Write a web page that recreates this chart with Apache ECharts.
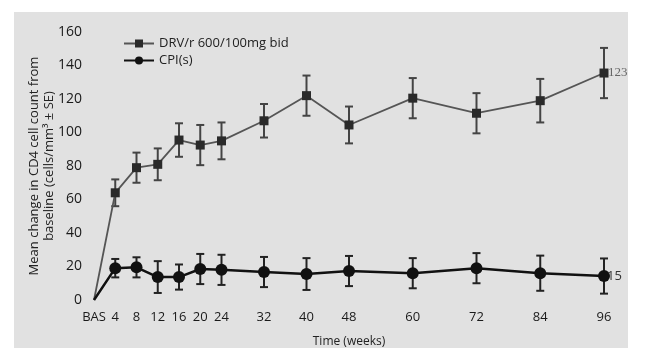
<!DOCTYPE html>
<html><head><meta charset="utf-8">
<script src="https://cdn.jsdelivr.net/npm/echarts@6/dist/echarts.min.js"></script>
<style>html,body{margin:0;padding:0;background:#fff}#c{width:646px;height:355px}</style>
</head><body><div id="c"></div>
<script>
var weeks = [0, 4, 8, 12, 16, 20, 24, 32, 40, 48, 60, 72, 84, 96];
var tickLabels = ['BAS','4','8','12','16','20','24','32','40','48','60','72','84','96'];
var drvMean = [0, 64, 79, 81, 95.5, 92.5, 95, 107, 122, 104.5, 120.5, 111.5, 119, 135.5];
var drvSE   = [0, 8, 9, 9.5, 10, 12, 11, 10, 12, 11, 12, 12, 13, 15];
var cpiMean = [0, 19, 19.5, 13.7, 13.7, 18.5, 18, 16.7, 15.5, 17.3, 16, 19, 16, 14.3];
var cpiSE   = [0, 5.5, 6, 9.5, 7.5, 9, 9, 9, 9.5, 9, 9, 9, 10.5, 10.5];
var drvEndLabel = '123';
var cpiEndLabel = '15';

function pairs(m){ return weeks.map(function(w,i){ return i===0 ? {value:[w, m[i]], symbol:'none'} : [w, m[i]]; }); }
function errData(m, se){ var o=[]; for (var i=1;i<weeks.length;i++) o.push([weeks[i], m[i]-se[i], m[i]+se[i]]); return o; }
function errRender(color){
  return function(params, api){
    var x = api.value(0), lo = api.value(1), hi = api.value(2);
    var p1 = api.coord([x, hi]), p2 = api.coord([x, lo]);
    var w = 4;
    var st = {stroke: color, lineWidth: 2};
    return {type:'group', children:[
      {type:'line', shape:{x1:p1[0],y1:p1[1],x2:p2[0],y2:p2[1]}, style:st},
      {type:'line', shape:{x1:p1[0]-w,y1:p1[1],x2:p1[0]+w,y2:p1[1]}, style:st},
      {type:'line', shape:{x1:p2[0]-w,y1:p2[1],x2:p2[0]+w,y2:p2[1]}, style:st}
    ]};
  };
}
var font = '"Open Sans", "DejaVu Sans", sans-serif';
var chart = echarts.init(document.getElementById('c'));
chart.setOption({
  animation:false,
  backgroundColor:'#fff',
  graphic:[{type:'rect', shape:{x:14,y:12,width:614,height:336}, style:{fill:'#e1e1e1'}, z:-10, silent:true}],
  grid:{left:94, right:42, top:32, bottom:55},
  legend:{
    left:118, top:32, orient:'vertical', itemGap:4, itemWidth:30, itemHeight:10,
    textStyle:{fontFamily:font, fontSize:13, color:'#222'},
    data:[{name:'DRV/r 600/100mg bid'},{name:'CPI(s)'}]
  },
  xAxis:{
    type:'value', min:0, max:96, interval:4,
    name:'Time (weeks)', nameLocation:'middle', nameGap:36,
    nameTextStyle:{fontFamily:font, fontSize:12, color:'#222'},
    axisLine:{show:false}, axisTick:{show:false}, splitLine:{show:false},
    axisLabel:{margin:11, fontFamily:font, fontSize:13, color:'#1a1a1a',
      formatter:function(v){ var i=weeks.indexOf(v); return i>=0?tickLabels[i]:''; }}
  },
  yAxis:{
    type:'value', min:0, max:160, interval:20,
    name:'Mean change in CD4 cell count from\nbaseline (cells/mm\u00b3 \u00b1 SE)', nameLocation:'middle', nameGap:37,
    nameMoveOverlap:false,
    nameTextStyle:{fontFamily:font, fontSize:13, color:'#222', lineHeight:15},
    axisLine:{show:false}, axisTick:{show:false}, splitLine:{show:false},
    axisLabel:{margin:12, fontFamily:font, fontSize:14, color:'#1a1a1a'}
  },
  series:[
    {name:'DRV/r 600/100mg bid', type:'line', data:pairs(drvMean), symbol:'rect', symbolSize:9,
     showAllSymbol:true,
     itemStyle:{color:'#2a2a2a'}, lineStyle:{color:'#555', width:1.8},
     endLabel:{show:true, formatter:drvEndLabel, fontFamily:'"Liberation Serif", serif', fontSize:13, color:'#666', distance:4}, z:3},
    {name:'CPI(s)', type:'line', data:pairs(cpiMean), symbol:'circle', symbolSize:12,
     itemStyle:{color:'#111'}, lineStyle:{color:'#111', width:2.5},
     endLabel:{show:true, formatter:cpiEndLabel, fontFamily:font, fontSize:13, color:'#333', distance:3}, z:3},
    {type:'custom', renderItem:errRender('#444'), data:errData(drvMean, drvSE), encode:{x:0,y:[1,2]}, z:2, silent:true},
    {type:'custom', renderItem:errRender('#222'), data:errData(cpiMean, cpiSE), encode:{x:0,y:[1,2]}, z:2, silent:true}
  ]
});
</script></body></html>
